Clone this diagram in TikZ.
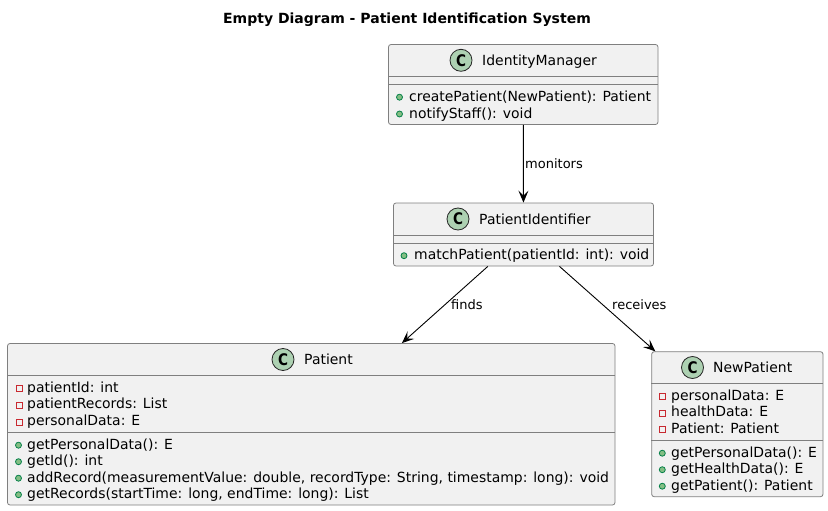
\documentclass[tikz,border=0pt]{standalone}
\usepackage{fontspec}
\usepackage{graphicx}
\setmainfont{DejaVu Sans}
\usetikzlibrary{arrows.meta,calc}
\definecolor{boxfill}{HTML}{F1F1F1}
\definecolor{boxline}{HTML}{7F7F7F}
\definecolor{iconfill}{HTML}{ADD1B2}
\definecolor{pubfill}{HTML}{84BE84}
\definecolor{publine}{HTML}{038048}
\definecolor{privline}{HTML}{C82930}
\tikzset{x=1pt,y=-1pt,
  classbox/.style={draw=boxline,fill=boxfill,line width=.8pt,rounded corners=2.5pt,inner sep=0pt},
  sepline/.style={draw=boxline,line width=.8pt},
  member/.style={anchor=base west,inner sep=0pt,font=\fontsize{13.95}{16}\selectfont,text=black},
  classname/.style={anchor=base west,inner sep=0pt,font=\fontsize{13.95}{16}\selectfont,text=black},
  icon/.style={circle,draw=black!85,fill=iconfill,line width=.8pt,minimum size=22pt,inner sep=0pt,font=\fontsize{16}{16}\bfseries\selectfont},
  pub/.style={circle,draw=publine,fill=pubfill,line width=.8pt,minimum size=6pt,inner sep=0pt},
  priv/.style={rectangle,draw=privline,line width=.9pt,minimum size=5.9pt,inner sep=0pt},
  conn/.style={draw=black,line width=.9pt,-{Stealth[length=12pt,width=10pt,inset=5pt]}},
  connlabel/.style={anchor=base west,inner sep=0pt,font=\fontsize{13}{15}\selectfont,text=black},
  titletext/.style={anchor=base,inner sep=0pt,font=\fontsize{14}{16}\bfseries\selectfont}
}
\newcommand{\boxat}[5]{% name x0 y0 x1 y1
  \path let \n1={(#2+#4)/2}, \n2={(#3+#5)/2}, \n3={#4-#2}, \n4={#5-#3} in
    node[classbox,minimum width=\n3*1pt,minimum height=\n4*1pt] (#1) at (\n1,\n2) {};}
\newcommand{\mrow}[5]{% name mx tx y text  (public member)
  \node[pub] (#1m) at (#2,#4+.7) {};
  \node[member] (#1t) at (#3,#4+4.7) {#5};}
\newcommand{\prow}[6]{% name mx tx my y text  (private member)
  \node[priv] (#1m) at (#2,#4) {};
  \node[member] (#1t) at (#3,#5+4.7) {#6};}
\newcommand{\iconC}{\scalebox{.85}[1]{C}}
\begin{document}
\begin{tikzpicture}
\useasboundingbox (0,0) rectangle (828,511);
\node[titletext] (title) at (407,23.5) {Empty Diagram - Patient Identification System};

% boxes
\boxat{im}{388.5}{44.5}{658}{124.5}
\boxat{pi}{393.5}{203}{653.5}{266}
\boxat{pa}{7.5}{343.5}{615}{505}
\boxat{np}{651.7}{351.7}{823}{496.7}

% IdentityManager
\node[icon] (imi) at (461,60.3) {\iconC};
\node[classname] (imn) at (482,65.3) {IdentityManager};
\draw[sepline] (im.west |- 0,76.5) -- (im.east |- 0,76.5);
\draw[sepline] (im.west |- 0,84.5) -- (im.east |- 0,84.5);
\mrow{ima}{399.5}{409}{96.5}{createPatient(NewPatient): Patient}
\mrow{imb}{399.5}{409}{113.3}{notifyStaff(): void}

% PatientIdentifier
\node[icon] (pii) at (458,219) {\iconC};
\node[classname] (pin) at (479,224) {PatientIdentifier};
\draw[sepline] (pi.west |- 0,235) -- (pi.east |- 0,235);
\draw[sepline] (pi.west |- 0,243) -- (pi.east |- 0,243);
\mrow{pia}{404}{414}{255}{matchPatient(patientId: int): void}

% Patient
\node[icon] (pai) at (283,359.5) {\iconC};
\node[classname] (pan) at (304,364.5) {Patient};
\draw[sepline] (pa.west |- 0,375.7) -- (pa.east |- 0,375.7);
\draw[sepline] (pa.west |- 0,432.7) -- (pa.east |- 0,432.7);
\prow{paa}{19}{27}{388}{387.5}{patientId: int}
\prow{pab}{19}{27}{405}{404}{patientRecords: List}
\prow{pac}{19}{27}{422}{420.5}{personalData: E}
\mrow{pad}{18.5}{27}{444.5}{getPersonalData(): E}
\mrow{pae}{18.5}{27}{461}{getId(): int}
\mrow{paf}{18.5}{27}{477.5}{addRecord(measurementValue: double, recordType: String, timestamp: long): void}
\mrow{pag}{18.5}{27}{494}{getRecords(startTime: long, endTime: long): List}

% NewPatient
\node[icon] (npi) at (692.5,367.5) {\iconC};
\node[classname] (npn) at (713,372.5) {NewPatient};
\draw[sepline] (np.west |- 0,383.3) -- (np.east |- 0,383.3);
\draw[sepline] (np.west |- 0,440) -- (np.east |- 0,440);
\prow{npa}{662}{671}{396}{395.5}{personalData: E}
\prow{npb}{662}{671}{413}{412}{healthData: E}
\prow{npc}{662}{671}{429}{428.5}{Patient: Patient}
\mrow{npd}{662.3}{671}{452.5}{getPersonalData(): E}
\mrow{npe}{662.3}{671}{469}{getHealthData(): E}
\mrow{npf}{662.3}{671}{485.5}{getPatient(): Patient}

% connectors
\draw[conn] (im) -- (pi);
\draw[conn] (pi) -- (pa);
\draw[conn] (pi) -- (np);
\node[connlabel] (l1) at (525,168) {monitors};
\node[connlabel] (l2) at (451,309) {finds};
\node[connlabel] (l3) at (612,309) {receives};
\end{tikzpicture}
\end{document}
